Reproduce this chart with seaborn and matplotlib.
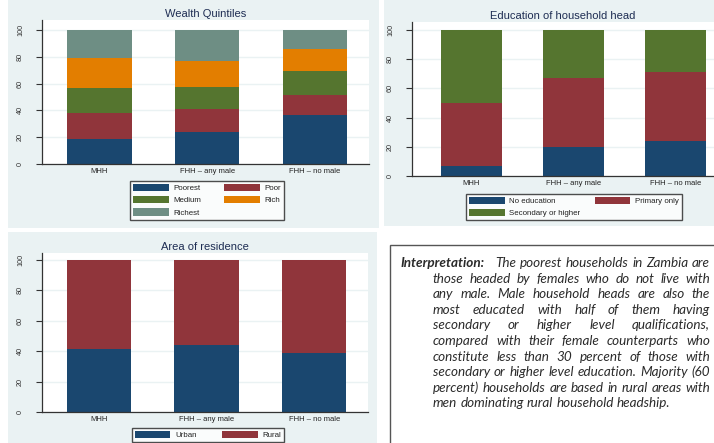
import matplotlib
matplotlib.use("Agg")
import matplotlib.pyplot as plt
import seaborn as sns
import numpy as np
from matplotlib.patches import Rectangle, Patch

# category labels
groups = ["MHH", "FHH – any male", "FHH – no male"]

# wealth quintiles (percent, stacked)
poorest = [18.4, 23.6, 36.3]
poor = [19.7, 17.2, 15.4]
medium = [18.9, 16.9, 18.0]
rich = [21.9, 19.4, 16.1]
richest = [21.1, 22.9, 14.2]

# education of household head
no_educ = [6.9, 19.9, 24.0]
primary = [42.8, 47.4, 47.4]
secondary = [50.3, 32.7, 28.6]

# area of residence
urban = [41.3, 44.0, 38.9]
rural = [58.7, 56.0, 61.1]

NAVY, MAROON, GREEN, ORANGE, TEAL = "#1A476F", "#90353B", "#55752F", "#E37E00", "#6E8E84"
PANEL = "#EAF2F3"

W, H = 714, 443
plt.rcParams["font.family"] = ["Liberation Sans", "DejaVu Sans"]

fig = plt.figure(figsize=(W / 100, H / 100), dpi=100)
fig.patch.set_facecolor("white")


def box(x0, y0, x1, y1):
    # pixel box -> figure fraction rect
    return [x0 / W, 1 - y1 / H, (x1 - x0) / W, (y1 - y0) / H]


def panel_bg(x0, y0, x1, y1):
    fig.add_artist(Rectangle((x0 / W, 1 - y1 / H), (x1 - x0) / W, (y1 - y0) / H,
                             transform=fig.transFigure, facecolor=PANEL,
                             edgecolor="none", zorder=-10))


def stacked(ax, layers, colors, title, ymax, xlim):
    cum = np.cumsum(np.array(layers), axis=0)
    for vals, col in zip(cum[::-1], colors[::-1]):
        sns.barplot(x=groups, y=vals, color=col, width=0.6, saturation=1,
                    edgecolor="none", ax=ax)
    ax.set_ylim(0, ymax)
    ax.set_xlim(*xlim)
    ax.set_yticks([0, 20, 40, 60, 80, 100])
    ax.yaxis.grid(True, color=PANEL, lw=1)
    ax.set_axisbelow(True)
    ax.set_xlabel("")
    ax.set_ylabel("")
    for s in ["top", "right"]:
        ax.spines[s].set_visible(False)
    for s in ["left", "bottom"]:
        ax.spines[s].set_color("#333333")
        ax.spines[s].set_linewidth(0.9)
    ax.tick_params(axis="y", labelsize=5.2, labelrotation=90, length=4, width=0.8,
                   color="#333333", pad=9, labelcolor="#333333")
    for t in ax.get_yticklabels():
        t.set_va("center")
    ax.tick_params(axis="x", labelsize=5.5, length=0, pad=3, labelcolor="#222222")
    ax.set_title(title, fontsize=8, color="#1E2D53", pad=2)


def add_legend(ax, labels, colors, order, ncol, cx, top, colsp):
    handles = [Patch(facecolor=colors[i], edgecolor="none", label=labels[i]) for i in order]
    leg = ax.legend(handles=handles, loc="upper center", ncol=ncol,
                    bbox_to_anchor=(cx / W, 1 - top / H), bbox_transform=fig.transFigure,
                    fontsize=5.7, handlelength=4.5, handleheight=1.05,
                    labelspacing=0.5, handletextpad=0.6, columnspacing=colsp,
                    borderpad=0.35, frameon=True, fancybox=False)
    leg.get_frame().set_edgecolor("#222222")
    leg.get_frame().set_linewidth(1.0)
    for t in leg.get_texts():
        t.set_color("#222222")


# panel backgrounds
panel_bg(8, 0, 379, 228)
panel_bg(384, 0, 714, 226)
panel_bg(8, 232, 377, 443)

# Wealth quintiles
ax1 = fig.add_axes(box(42, 20, 369, 164))
stacked(ax1, [poorest, poor, medium, rich, richest],
        [NAVY, MAROON, GREEN, ORANGE, TEAL], "Wealth Quintiles", 107.5, (-0.53, 2.5))
add_legend(ax1, ["Poorest", "Poor", "Medium", "Rich", "Richest"],
           [NAVY, MAROON, GREEN, ORANGE, TEAL], [0, 2, 4, 1, 3], 2, 207, 177, 2.9)

# Education of household head
ax2 = fig.add_axes(box(412, 22, 714, 176))
stacked(ax2, [no_educ, primary, secondary], [NAVY, MAROON, GREEN],
        "Education of household head", 105.5, (-0.58, 2.38))
add_legend(ax2, ["No education", "Primary only", "Secondary or higher"],
           [NAVY, MAROON, GREEN], [0, 2, 1], 2, 574, 190, 1.8)

# Area of residence
ax3 = fig.add_axes(box(42, 253, 368, 412))
stacked(ax3, [urban, rural], [NAVY, MAROON], "Area of residence", 104.6, (-0.53, 2.5))
add_legend(ax3, ["Urban", "Rural"], [NAVY, MAROON], [0, 1], 2, 208, 424, 3.2)

# interpretation box
fig.add_artist(Rectangle((390 / W, 1 - 445 / H), 330 / W, 200 / H,
                         transform=fig.transFigure, facecolor="white",
                         edgecolor="#555555", lw=1.0))

lines = [
    "The poorest households in Zambia are",
    "those headed by females who  do  not  live  with",
    "any male. Male household heads are also the",
    "most educated  with  half  of  them  having",
    "secondary  or  higher  level  qualifications,",
    "compared with their female counterparts who",
    "constitute less than 30 percent of those with",
    "secondary or higher level education. Majority (60",
    "percent) households are based in rural areas with",
    "men dominating rural household headship.",
]
tfont = dict(family=["Lato", "DejaVu Sans"], style="italic", fontsize=7.6, color="#2b2b2b")

fig.canvas.draw()
rend = fig.canvas.get_renderer()


def text_width(s):
    t = fig.text(0, 0, s, **tfont)
    wd = t.get_window_extent(rend).width
    t.remove()
    return wd


RIGHT = 710
# scale the body font so the widest justified line still has word gaps
scale = min((RIGHT - (495 if i == 0 else 433)) / text_width(" ".join(l.split()))
            for i, l in enumerate(lines[:-1]))
tfont["fontsize"] *= scale * 0.985

y0, dy = 263, 15.6
fig.text(400 / W, 1 - y0 / H, "Interpretation:", va="center", fontweight="bold", **tfont)
space = text_width("a b") - text_width("ab")
for i, line in enumerate(lines):
    left = 495 if i == 0 else 433
    words = line.split()
    widths = [text_width(w) for w in words]
    if i < len(lines) - 1:
        gap = (RIGHT - left - sum(widths)) / (len(words) - 1)
    else:
        gap = space
    x = left
    y = y0 + i * dy
    for w, wd in zip(words, widths):
        fig.text(x / W, 1 - y / H, w, va="center", **tfont)
        x += wd + gap

fig.savefig("out.png", dpi=100)
